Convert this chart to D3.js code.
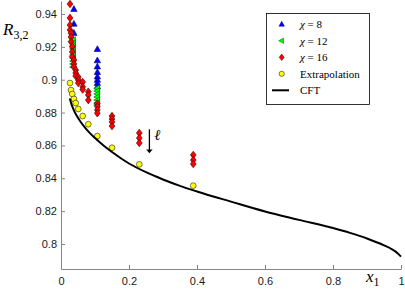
<!DOCTYPE html>
<html><head><meta charset="utf-8">
<script src="https://cdn.jsdelivr.net/npm/d3@7"></script>
<style>body{margin:0;background:#fff}svg{display:block}</style>
</head><body>
<svg id="c" width="405" height="294"></svg>
<script>
// ---- data ----
const xTicks = [0, 0.2, 0.4, 0.6, 0.8, 1];
const yTicks = [0.8, 0.82, 0.84, 0.86, 0.88, 0.9, 0.92, 0.94];
const xTickLabels = ["0", "0.2", "0.4", "0.6", "0.8", "1"];
const yTickLabels = ["0.8", "0.82", "0.84", "0.86", "0.88", "0.9", "0.92", "0.94"];

const chi8X = [0.038,0.038,0.038, 0.107,0.107,0.107,0.107,0.107,0.107,0.107,0.107];
const chi8Y = [0.9429,0.9339,0.9283, 0.9185,0.9116,0.9079,0.9045,0.9018,0.8998,0.8978,0.8957];

const chi12X = [0.036,0.036,0.036,0.036,0.036,0.036,0.036,0.036,0.036,0.036, 0.107,0.107,0.107,0.107,0.107,0.107,0.107];
const chi12Y = [0.9242,0.9223,0.9205,0.9187,0.9169,0.9150,0.9132,0.9114,0.9096,0.9077, 0.8948,0.8931,0.8913,0.8895,0.8876,0.8858,0.8846];

const chi16X = [0.0265,0.0265,0.0265,0.0265, 0.0294,0.0294,0.0294, 0.0332,0.0332,0.0332,
  0.0382,0.0382,0.0382, 0.0432,0.0432,0.0432, 0.0509,0.0509,0.0509, 0.0638,0.0638,0.0638,
  0.0803,0.0803,0.0803, 0.1068,0.1068,0.1068,0.1068, 0.150,0.150,0.150,0.150,
  0.2303,0.2303,0.2303, 0.389,0.389,0.389];
const chi16Y = [0.9461,0.9376,0.9333,0.9303, 0.9283,0.9260,0.9231, 0.9201,0.9170,0.9140,
  0.9120,0.9096,0.9077, 0.9059,0.9041,0.9023, 0.9016,0.8998,0.8980, 0.8986,0.8957,0.8940,
  0.8927,0.8907,0.8876, 0.8855,0.8837,0.8816,0.8796, 0.8779,0.8761,0.8743,0.8718,
  0.8676,0.8645,0.8615, 0.8542,0.8511,0.8487];

const extrapX = [0.0265,0.0294,0.0332,0.0382,0.0432,0.0509,0.0638,0.0803,0.1068,0.150,0.2303,0.389];
const extrapY = [0.8980,0.8937,0.8913,0.8883,0.8858,0.8822,0.8779,0.8729,0.8657,0.8586,0.8485,0.8355];

const cftX = [0.026,0.027,0.031,0.037,0.045,0.055,0.07,0.085,0.1,0.125,0.15,0.2,0.25,0.3,0.35,0.4,0.5,0.6,0.7,0.8,0.85,0.9,0.95,0.975,0.99,1.0];
const cftY = [0.8886,0.8878,0.8850,0.8818,0.8785,0.8752,0.8710,0.8675,0.8645,0.8600,0.8560,0.8490,0.8437,0.8393,0.8354,0.8320,0.8258,0.8198,0.8147,0.8097,0.8068,0.8034,0.7992,0.7966,0.7944,0.7923];

const legendLabels = ["χ = 8", "χ = 12", "χ = 16", "Extrapolation", "CFT"];

// ---- chart ----
const svg = d3.select("#c");
const x = d3.scaleLinear().domain([0, 1]).range([61, 401]);
const y = d3.scaleLinear().domain([0.7848, 0.9479]).range([269, 1]);
const axisCol = "#858585";

// axes
const gx = svg.append("g").attr("transform", `translate(0,${y.range()[0]})`)
  .call(d3.axisBottom(x).tickValues(xTicks).tickFormat((d,i)=>xTickLabels[i]).tickSizeInner(-4).tickSizeOuter(0).tickPadding(8));
const gy = svg.append("g").attr("transform", `translate(${x.range()[0]},0)`)
  .call(d3.axisLeft(y).tickValues(yTicks).tickFormat((d,i)=>yTickLabels[i]).tickSizeInner(-4).tickSizeOuter(0).tickPadding(4));
[gx, gy].forEach(g => {
  g.select(".domain").attr("stroke", axisCol).attr("stroke-width", 1);
  g.selectAll(".tick line").attr("stroke", axisCol);
  g.selectAll(".tick text").attr("fill", "#1a1a1a").style("font-family", "'Liberation Sans', Arial, sans-serif").style("font-size", "11px");
});

// marker shapes
const triUp = "M0,-3.6L3.2,2.2L-3.2,2.2Z";
const triLeft = "M-3.6,0L2.2,-3.2L2.2,3.2Z";
const diamond = "M0,-3.8L2.9,0L0,3.8L-2.9,0Z";

function scatter(xs, ys, path, fill, stroke) {
  svg.append("g").selectAll("path").data(xs).join("path")
    .attr("d", path)
    .attr("transform", (d,i) => `translate(${x(d)},${y(ys[i])})`)
    .attr("fill", fill).attr("stroke", stroke).attr("stroke-width", 0.6);
}
scatter(chi8X, chi8Y, triUp, "#0000ff", "#00007a");
scatter(chi12X, chi12Y, triLeft, "#00ff00", "#0a5a0a");
scatter(chi16X, chi16Y, diamond, "#ff0000", "#3a0000");

svg.append("g").selectAll("circle").data(extrapX).join("circle")
  .attr("cx", d => x(d)).attr("cy", (d,i) => y(extrapY[i])).attr("r", 2.9)
  .attr("fill", "#ffff00").attr("stroke", "#222").attr("stroke-width", 0.6);

const line = d3.line().x(d => x(d[0])).y(d => y(d[1])).curve(d3.curveMonotoneX);
svg.append("path").datum(cftX.map((d,i)=>[d, cftY[i]]))
  .attr("d", line).attr("fill", "none").attr("stroke", "#000").attr("stroke-width", 2);

// arrow for ell
const ax = 0.26;
svg.append("line").attr("x1", x(ax)).attr("x2", x(ax)).attr("y1", y(0.8698)).attr("y2", y(0.8565))
  .attr("stroke", "#000").attr("stroke-width", 1.3);
svg.append("path").attr("d", `M${x(ax)-3.2},${y(0.8575)}L${x(ax)+3.2},${y(0.8575)}L${x(ax)},${y(0.8552)}Z`).attr("fill", "#000");
svg.append("text").attr("x", x(0.274)).attr("y", y(0.8632)).text("ℓ")
  .style("font-family", "'DejaVu Serif', serif").style("font-style", "italic").style("font-size", "15px");

// axis labels
const yl = svg.append("text").attr("x", 3).attr("y", 35)
  .style("font-family", "'Liberation Serif', 'DejaVu Serif', serif").style("font-style", "italic").style("font-size", "17px");
yl.append("tspan").text("R");
yl.append("tspan").attr("dy", 4).style("font-size", "12px").style("font-style", "normal").text("3,2");

const xl = svg.append("text").attr("x", 366).attr("y", 282)
  .style("font-family", "'Liberation Serif', 'DejaVu Serif', serif").style("font-style", "italic").style("font-size", "17px");
xl.append("tspan").text("x");
xl.append("tspan").attr("dy", 4).style("font-size", "12px").style("font-style", "normal").text("1");

// legend
const lg = svg.append("g");
lg.append("rect").attr("x", 266.5).attr("y", 13.5).attr("width", 103).attr("height", 91)
  .attr("fill", "#fff").attr("stroke", "#000").attr("stroke-width", 0.8);
const rowsY = [24.3, 40.8, 57.3, 73.8, 90.3];
const mx = 281.7;
lg.append("path").attr("d", triUp).attr("transform", `translate(${mx},${rowsY[0]}) scale(0.85)`).attr("fill", "#0000ff").attr("stroke", "#00007a").attr("stroke-width", 0.6);
lg.append("path").attr("d", triLeft).attr("transform", `translate(${mx},${rowsY[1]}) scale(0.85)`).attr("fill", "#00ff00").attr("stroke", "#0a5a0a").attr("stroke-width", 0.6);
lg.append("path").attr("d", diamond).attr("transform", `translate(${mx},${rowsY[2]}) scale(0.85)`).attr("fill", "#ff0000").attr("stroke", "#3a0000").attr("stroke-width", 0.6);
lg.append("circle").attr("cx", mx).attr("cy", rowsY[3]).attr("r", 2.6).attr("fill", "#ffff00").attr("stroke", "#222").attr("stroke-width", 0.6);
lg.append("line").attr("x1", 272).attr("x2", 289).attr("y1", rowsY[4]).attr("y2", rowsY[4]).attr("stroke", "#000").attr("stroke-width", 2);
legendLabels.forEach((t, i) => {
  const tx = lg.append("text").attr("x", 300).attr("y", rowsY[i] + 3.8)
    .style("font-family", "'Liberation Serif', 'DejaVu Serif', serif").style("font-size", "11px");
  if (t.startsWith("χ")) {
    tx.append("tspan").style("font-style", "italic").text("χ");
    tx.append("tspan").text(t.slice(1));
  } else tx.text(t);
});
</script>
</body></html>
